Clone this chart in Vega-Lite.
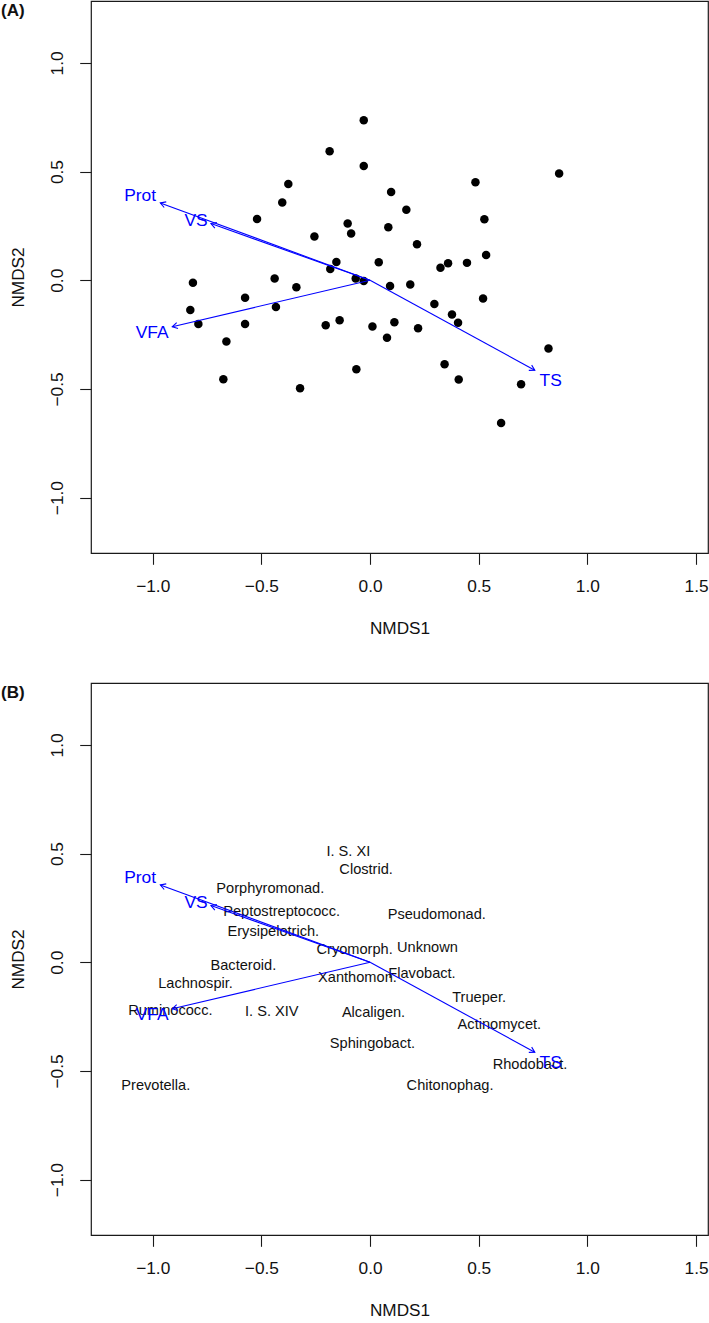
{
  "$schema": "https://vega.github.io/schema/vega-lite/v6.json",
  "padding": {"left": 0, "top": 0, "right": 0, "bottom": 0},
  "background": "white",
  "config": {
    "font": "Liberation Sans",
    "view": {"stroke": "#1a1a1a", "strokeWidth": 1.2},
    "axis": {
      "domain": false,
      "grid": false,
      "tickColor": "#1a1a1a",
      "tickSize": 11.3,
      "tickWidth": 1.1,
      "labelFont": "Liberation Sans",
      "labelFontSize": 17.3,
      "labelColor": "#111111",
      "titleFont": "Liberation Sans",
      "titleFontSize": 17.2,
      "titleFontWeight": "normal",
      "titleColor": "#111111",
      "labelFlush": false,
      "labelOverlap": false
    },
    "axisX": {"labelPadding": 12.7, "titlePadding": 25},
    "axisY": {"labelAngle": -90, "labelAlign": "center", "labelBaseline": "alphabetic", "labelPadding": 17.5, "titlePadding": 21}
  },
  "datasets": {
    "sites": [
      {"x": -0.186, "y": 0.594}, {"x": -0.376, "y": 0.443}, {"x": -0.404, "y": 0.358},
      {"x": -0.520, "y": 0.282}, {"x": -0.103, "y": 0.261}, {"x": -0.087, "y": 0.215},
      {"x": -0.256, "y": 0.201}, {"x": -0.155, "y": 0.084}, {"x": -0.183, "y": 0.052},
      {"x": -0.066, "y": 0.008}, {"x": -0.439, "y": 0.008}, {"x": -0.815, "y": -0.011},
      {"x": -0.339, "y": -0.032}, {"x": -0.575, "y": -0.080}, {"x": -0.029, "y": 0.736},
      {"x": -0.029, "y": 0.526}, {"x": 0.485, "y": 0.451}, {"x": 0.870, "y": 0.491},
      {"x": 0.097, "y": 0.406}, {"x": 0.167, "y": 0.324}, {"x": 0.526, "y": 0.281},
      {"x": 0.084, "y": 0.244}, {"x": 0.216, "y": 0.166}, {"x": 0.534, "y": 0.116},
      {"x": 0.040, "y": 0.083}, {"x": 0.324, "y": 0.058}, {"x": 0.359, "y": 0.078},
      {"x": 0.446, "y": 0.080}, {"x": -0.029, "y": -0.003}, {"x": 0.092, "y": -0.026},
      {"x": 0.185, "y": -0.020}, {"x": 0.520, "y": -0.084}, {"x": 0.296, "y": -0.109},
      {"x": 0.377, "y": -0.158}, {"x": 0.405, "y": -0.195}, {"x": 0.112, "y": -0.193},
      {"x": 0.011, "y": -0.213}, {"x": 0.221, "y": -0.221}, {"x": 0.078, "y": -0.264},
      {"x": -0.063, "y": -0.410}, {"x": 0.343, "y": -0.387}, {"x": 0.408, "y": -0.457},
      {"x": 0.821, "y": -0.314}, {"x": 0.695, "y": -0.479}, {"x": 0.603, "y": -0.657},
      {"x": -0.827, "y": -0.137}, {"x": -0.433, "y": -0.123}, {"x": -0.790, "y": -0.201},
      {"x": -0.575, "y": -0.201}, {"x": -0.661, "y": -0.282}, {"x": -0.204, "y": -0.207},
      {"x": -0.140, "y": -0.184}, {"x": -0.675, "y": -0.456}, {"x": -0.322, "y": -0.497}
    ],
    "vectors": [
      {"name": "Prot", "x": -0.965, "y": 0.356},
      {"name": "VS", "x": -0.732, "y": 0.261},
      {"name": "VFA", "x": -0.910, "y": -0.214},
      {"name": "TS", "x": 0.758, "y": -0.414}
    ],
    "vectorLabels": [
      {"name": "Prot", "x": -1.058, "y": 0.391},
      {"name": "VS", "x": -0.801, "y": 0.276},
      {"name": "VFA", "x": -1.003, "y": -0.240},
      {"name": "TS", "x": 0.831, "y": -0.460}
    ],
    "taxa": [
      {"name": "I. S. XI", "x": -0.100, "y": 0.511},
      {"name": "Clostrid.", "x": -0.018, "y": 0.427},
      {"name": "Porphyromonad.", "x": -0.459, "y": 0.342},
      {"name": "Peptostreptococc.", "x": -0.407, "y": 0.238},
      {"name": "Erysipelotrich.", "x": -0.445, "y": 0.146},
      {"name": "Cryomorph.", "x": -0.071, "y": 0.062},
      {"name": "Unknown", "x": 0.264, "y": 0.071},
      {"name": "Pseudomonad.", "x": 0.307, "y": 0.220},
      {"name": "Bacteroid.", "x": -0.583, "y": -0.011},
      {"name": "Lachnospir.", "x": -0.803, "y": -0.095},
      {"name": "Xanthomon.", "x": -0.058, "y": -0.069},
      {"name": "Flavobact.", "x": 0.239, "y": -0.049},
      {"name": "Trueper.", "x": 0.502, "y": -0.159},
      {"name": "Ruminococc.", "x": -0.919, "y": -0.221},
      {"name": "I. S. XIV", "x": -0.452, "y": -0.222},
      {"name": "Alcaligen.", "x": 0.016, "y": -0.230},
      {"name": "Actinomycet.", "x": 0.595, "y": -0.282},
      {"name": "Sphingobact.", "x": 0.011, "y": -0.371},
      {"name": "Rhodobact.", "x": 0.736, "y": -0.468},
      {"name": "Chitonophag.", "x": 0.368, "y": -0.563},
      {"name": "Prevotella.", "x": -0.986, "y": -0.566}
    ]
  },
  "spacing": 130,
  "bounds": "flush",
  "vconcat": [
    {
      "width": 617,
      "height": 552,
      "title": {"text": "(A)", "anchor": "start", "frame": "group", "offset": -32, "baseline": "alphabetic", "dx": -90, "fontSize": 17, "fontWeight": "bold", "color": "#111111", "font": "Liberation Sans"},
      "encoding": {
        "x": {"field": "x", "type": "quantitative", "scale": {"domain": [-1.284, 1.555], "nice": false, "zero": false}, "axis": {"title": "NMDS1", "values": [-1, -0.5, 0, 0.5, 1, 1.5], "format": ".1f"}},
        "y": {"field": "y", "type": "quantitative", "scale": {"domain": [-1.255, 1.285], "nice": false, "zero": false}, "axis": {"title": "NMDS2", "values": [-1, -0.5, 0, 0.5, 1], "format": ".1f"}}
      },
      "layer": [
        {"data": {"name": "sites"}, "mark": {"type": "circle", "size": 72, "color": "black", "opacity": 1}},
        {"data": {"name": "vectors"}, "mark": {"type": "rule", "color": "#0000ff", "strokeWidth": 1.1}, "encoding": {"x2": {"datum": 0}, "y2": {"datum": 0}}},
        {"data": {"name": "vectors"}, "mark": {"type": "point", "shape": "M -1 -0.577 L 0 0 L -1 0.577", "filled": false, "size": 108, "color": "#0000ff", "strokeWidth": 1.1, "opacity": 1},
         "encoding": {"angle": {"field": "name", "type": "nominal", "legend": null, "scale": {"type": "ordinal", "domain": ["Prot", "VS", "VFA", "TS"], "range": [200.25, 199.6, 166.8, 28.6]}}}},
        {"data": {"name": "vectorLabels"}, "mark": {"type": "text", "color": "#0000ff", "fontSize": 17.4, "align": "center", "baseline": "middle", "dy": 1}, "encoding": {"text": {"field": "name"}}}
      ]
    },
    {
      "width": 617,
      "height": 552,
      "title": {"text": "(B)", "anchor": "start", "frame": "group", "offset": -32, "baseline": "alphabetic", "dx": -90, "fontSize": 17, "fontWeight": "bold", "color": "#111111", "font": "Liberation Sans"},
      "encoding": {
        "x": {"field": "x", "type": "quantitative", "scale": {"domain": [-1.284, 1.555], "nice": false, "zero": false}, "axis": {"title": "NMDS1", "values": [-1, -0.5, 0, 0.5, 1, 1.5], "format": ".1f"}},
        "y": {"field": "y", "type": "quantitative", "scale": {"domain": [-1.255, 1.285], "nice": false, "zero": false}, "axis": {"title": "NMDS2", "values": [-1, -0.5, 0, 0.5, 1], "format": ".1f"}}
      },
      "layer": [
        {"data": {"name": "taxa"}, "mark": {"type": "text", "color": "#111111", "fontSize": 14.6, "align": "center", "baseline": "middle", "dy": 1}, "encoding": {"text": {"field": "name"}}},
        {"data": {"name": "vectors"}, "mark": {"type": "rule", "color": "#0000ff", "strokeWidth": 1.1}, "encoding": {"x2": {"datum": 0}, "y2": {"datum": 0}}},
        {"data": {"name": "vectors"}, "mark": {"type": "point", "shape": "M -1 -0.577 L 0 0 L -1 0.577", "filled": false, "size": 108, "color": "#0000ff", "strokeWidth": 1.1, "opacity": 1},
         "encoding": {"angle": {"field": "name", "type": "nominal", "legend": null, "scale": {"type": "ordinal", "domain": ["Prot", "VS", "VFA", "TS"], "range": [200.25, 199.6, 166.8, 28.6]}}}},
        {"data": {"name": "vectorLabels"}, "mark": {"type": "text", "color": "#0000ff", "fontSize": 17.4, "align": "center", "baseline": "middle", "dy": 1}, "encoding": {"text": {"field": "name"}}}
      ]
    }
  ]
}
